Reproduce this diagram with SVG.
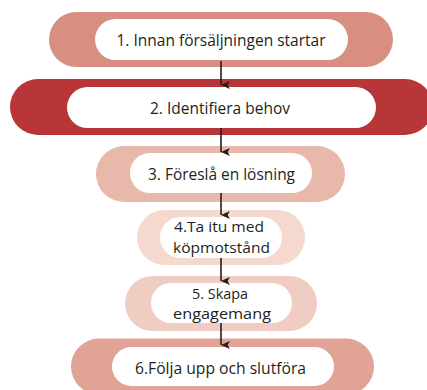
<svg xmlns="http://www.w3.org/2000/svg" width="427" height="390" viewBox="0 0 427 390">
<defs>
<style>
.inner{fill:#ffffff}
.t{font-family:"Open Sans","Noto Sans","Liberation Sans",sans-serif;font-size:16px;fill:#231f20;text-anchor:middle}
.t2{font-size:15px}
.c{stroke:#231f20;stroke-width:1.6;fill:none}
</style>
<marker id="ah" markerWidth="8" markerHeight="10" refX="3.5" refY="8" orient="auto" markerUnits="userSpaceOnUse" viewBox="0 0 7 9">
<path d="M0,0 L3.5,8 L7,0 L3.5,2 Z" fill="#231f20"/>
</marker>
</defs>
<rect width="427" height="390" fill="#ffffff"/>
<g id="node1">
<rect x="49" y="12" width="344" height="55" rx="27.5" fill="#d98e82"/>
<rect class="inner" x="95" y="19" width="253" height="41" rx="20.5"/>
<text class="t" x="221" y="46" textLength="209" lengthAdjust="spacingAndGlyphs">1. Innan försäljningen startar</text>
</g>
<g id="node2">
<rect x="10" y="79" width="423" height="56" rx="28" fill="#b83538"/>
<rect class="inner" x="67" y="87" width="309" height="41" rx="20.5"/>
<text class="t" x="220" y="113.5" textLength="140" lengthAdjust="spacingAndGlyphs">2. Identifiera behov</text>
</g>
<g id="node3">
<rect x="96" y="146" width="249" height="56" rx="28" fill="#e8b8aa"/>
<rect class="inner" x="130" y="153" width="182" height="40" rx="20"/>
<text class="t" x="221.5" y="180" textLength="147" lengthAdjust="spacingAndGlyphs">3. Föreslå en lösning</text>
</g>
<g id="node4">
<rect x="137" y="210" width="168" height="55" rx="27.5" fill="#f5d9cf"/>
<rect class="inner" x="160" y="217" width="122" height="41" rx="20.5"/>
<text class="t t2" x="219" y="232.1" textLength="90" lengthAdjust="spacingAndGlyphs">4.Ta itu med</text>
<text class="t t2" x="221.5" y="252.7" textLength="97" lengthAdjust="spacingAndGlyphs">köpmotstånd</text>
</g>
<g id="node5">
<rect x="125" y="276" width="192" height="55" rx="27.5" fill="#f0cdc3"/>
<rect class="inner" x="151" y="283" width="141" height="40" rx="20"/>
<text class="t t2" x="220" y="298.6" textLength="56" lengthAdjust="spacingAndGlyphs">5. Skapa</text>
<text class="t t2" x="222" y="319.2" textLength="98" lengthAdjust="spacingAndGlyphs">engagemang</text>
</g>
<g id="node6">
<rect x="71" y="338.5" width="303" height="56" rx="28" fill="#e0a395"/>
<rect class="inner" x="112" y="347" width="222" height="39" rx="19.5"/>
<text class="t" x="220.5" y="374" textLength="171" lengthAdjust="spacingAndGlyphs">6.Följa upp och slutföra</text>
</g>
<g id="connectors">
<line class="c" x1="221" y1="61" x2="221" y2="85" marker-end="url(#ah)"/>
<line class="c" x1="221" y1="128" x2="221" y2="152" marker-end="url(#ah)"/>
<line class="c" x1="221" y1="193" x2="221" y2="215" marker-end="url(#ah)"/>
<line class="c" x1="221" y1="258" x2="221" y2="281" marker-end="url(#ah)"/>
<line class="c" x1="221" y1="323" x2="221" y2="345" marker-end="url(#ah)"/>
</g>
</svg>
